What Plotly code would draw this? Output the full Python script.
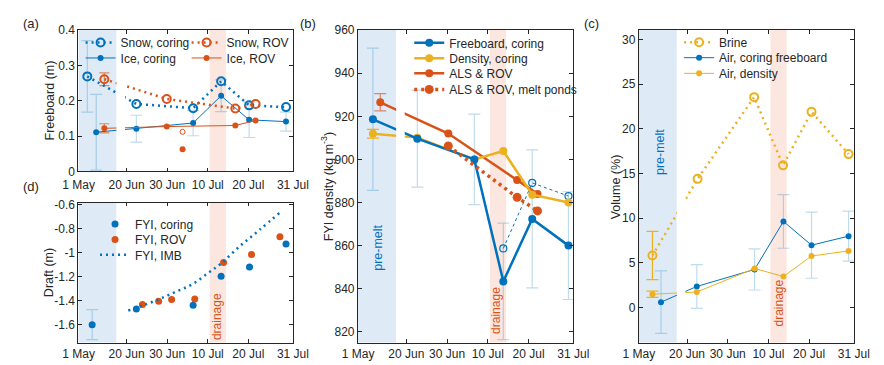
import plotly.graph_objects as go

W, H = 884, 365
FONT = "Liberation Sans, Arial, sans-serif"
TXT = "#262626"
BLUE = "#0072BD"
ORANGE = "#D95319"
YELLOW = "#EDB120"
EB_BLUE = "rgba(0,114,189,0.25)"
EB_ORANGE = "rgba(217,83,25,0.65)"
PRE_FILL = "rgb(222,235,247)"
DRN_FILL = "rgb(251,231,223)"
FS = 12

# x = days after 20 Jun on a broken time axis (pre-melt samples from early May sit left of the break)
TICK_X = [-11.85, 0, 10, 20, 30, 41]
TICK_TEXT = ["1 May", "20 Jun", "30 Jun", "10 Jul", "20 Jul", "31 Jul"]
X_RANGE = [-11.9, 41]
PREMELT = [-11.9, -2.5]
BREAK = [-2.5, -0.4]
DRAINAGE = [20.5, 24.5]

# ---------------- (a) freeboard ----------------
a_snow_cor_x = [-9.7, 2.4, 16.4, 23.3, 30.2, 39.3]
a_snow_cor_y = [0.269, 0.191, 0.179, 0.255, 0.187, 0.182]
a_snow_cor_err = [0.101, None, None, None, None, None]
a_ice_cor_x = [-7.5, 2.4, 16.4, 23.3, 30.2, 39.3]
a_ice_cor_y = [0.111, 0.121, 0.137, 0.214, 0.146, 0.141]
a_ice_cor_err = [0.107, 0.038, 0.036, 0.045, 0.05, 0.027]
a_snow_rov_x = [-5.5, 9.9, 26.8, 31.8]
a_snow_rov_y = [0.261, 0.205, 0.178, 0.191]
a_snow_rov_err = [0.018, None, None, None]
a_ice_rov_x = [-5.5, 9.9, 26.8, 31.8]
a_ice_rov_y = [0.122, 0.127, 0.130, 0.144]
a_ice_rov_err = [0.013, None, None, None]
a_pond_x = [13.8]
a_pond_snow_y = [0.112]
a_pond_ice_y = [0.063]

# ---------------- (b) FYI density ----------------
b_fb_x = [-8.2, 2.7, 16.7, 23.8, 30.9, 39.8]
b_fb_y = [918.6, 909.6, 900.0, 843.4, 872.4, 860.0]
b_fb_err = [33, 22.5, 21, 27, 32, 25]
b_fb_alt_x = [23.8, 30.9, 39.8]
b_fb_alt_y = [858.7, 889.1, 883.0]
b_den_x = [-8.2, 2.7, 16.7, 23.8, 30.9, 39.8]
b_den_y = [911.9, 910.1, 900.0, 903.9, 883.6, 880.0]
b_den_err = [2, None, None, None, None, None]
b_als_x = [-6.4, 10.3, 27.2, 32.2]
b_als_y = [926.5, 912.0, 890.4, 884.0]
b_als_err = [4, None, None, None]
b_pond_x = [10.3, 27.2, 32.2]
b_pond_y = [906.2, 882.4, 876.1]

# ---------------- (c) volume ----------------
c_brine_x = [-8.5, 2.6, 16.5, 23.6, 30.6, 39.7]
c_brine_y = [5.81, 14.39, 23.54, 15.9, 21.89, 17.16]
c_brine_err = [2.7, None, None, None, None, None]
c_airfb_x = [-6.4, 2.4, 16.6, 23.7, 30.6, 39.7]
c_airfb_y = [0.58, 2.34, 4.24, 9.62, 6.96, 7.97]
c_airfb_err = [3.5, 2.45, 2.3, 3.0, 3.7, 2.8]
c_airden_x = [-8.5, 2.4, 16.6, 23.7, 30.6, 39.7]
c_airden_y = [1.47, 1.72, 4.35, 3.45, 5.75, 6.32]
c_airden_err = [0.35, None, None, None, None, None]

# ---------------- (d) draft ----------------
d_cor_x = [-8.5, 2.4, 16.4, 23.3, 30.3, 39.3]
d_cor_y = [-1.60, -1.469, -1.439, -1.196, -1.118, -0.926]
d_cor_err = [0.125, None, None, None, None, None]
d_rov_x = [3.9, 7.9, 11.1, 16.8, 23.9, 30.8, 37.8]
d_rov_y = [-1.431, -1.404, -1.391, -1.386, -1.081, -1.014, -0.865]
d_imb_x = [0.4, 4.3, 8.3, 12.2, 16.2, 20.1, 23.3, 28.0, 32.8, 37.9]
d_imb_y = [-1.482, -1.436, -1.383, -1.324, -1.263, -1.169, -1.089, -0.942, -0.808, -0.661]

fig = go.Figure()
legend_layout = {}
legend_count = [0]


def new_legend(text_x, row_y):
    legend_count[0] += 1
    n = legend_count[0]
    name = "legend" if n == 1 else f"legend{n}"
    legend_layout[name] = dict(
        x=(text_x - 40) / W, y=1 - (row_y - 5) / H, xanchor="left", yanchor="middle",
        bgcolor="rgba(0,0,0,0)", borderwidth=0, itemclick=False, itemdoubleclick=False,
        font=dict(size=FS, color=TXT, family=FONT))
    return name


def err_trace(ax, xs, ys, errs, color, width):
    px = [x for x, e in zip(xs, errs) if e is not None]
    py = [y for y, e in zip(ys, errs) if e is not None]
    pe = [e for e in errs if e is not None]
    fig.add_trace(go.Scatter(x=px, y=py, mode="markers", xaxis=f"x{ax}", yaxis=f"y{ax}",
                             marker=dict(size=1, color="rgba(0,0,0,0)"), showlegend=False,
                             hoverinfo="skip", name="err",
                             error_y=dict(type="data", array=pe, color=color, thickness=1.2,
                                          width=width)))


def line_trace(ax, xs, ys, color, lw, dash, symbol, msize, mlw=0, name=None, legend=None):
    fig.add_trace(go.Scatter(
        x=xs, y=ys, mode="lines+markers" if lw > 0 else "markers",
        xaxis=f"x{ax}", yaxis=f"y{ax}", name=name or "series",
        line=dict(color=color, width=lw, dash=dash),
        marker=dict(symbol=symbol, size=msize, color=color, line=dict(color=color, width=mlw)),
        showlegend=name is not None, legend=legend))


# ---- (a) ----
err_trace(1, a_ice_cor_x, a_ice_cor_y, a_ice_cor_err, EB_BLUE, 6)
err_trace(1, a_snow_cor_x, a_snow_cor_y, a_snow_cor_err, EB_BLUE, 6)
err_trace(1, a_snow_rov_x, a_snow_rov_y, a_snow_rov_err, EB_ORANGE, 5)
err_trace(1, a_ice_rov_x, a_ice_rov_y, a_ice_rov_err, EB_ORANGE, 5)
line_trace(1, a_snow_cor_x, a_snow_cor_y, BLUE, 2.5, "2px,4px", "circle-open", 8, 2,
           "Snow, coring", new_legend(107, 42))
line_trace(1, a_ice_cor_x, a_ice_cor_y, BLUE, 1, "solid", "circle", 6, 0,
           "Ice, coring", new_legend(107, 58))
line_trace(1, a_snow_rov_x, a_snow_rov_y, ORANGE, 2.5, "2px,4px", "circle-open", 8, 2,
           "Snow, ROV", new_legend(217, 42))
line_trace(1, a_ice_rov_x, a_ice_rov_y, ORANGE, 1, "solid", "circle", 6, 0,
           "Ice, ROV", new_legend(217, 58))
line_trace(1, a_pond_x, a_pond_snow_y, ORANGE, 0, "solid", "circle-open", 5, 1)
line_trace(1, a_pond_x, a_pond_ice_y, ORANGE, 0, "solid", "circle", 6, 0)

# ---- (b) ----
err_trace(2, b_fb_x, b_fb_y, b_fb_err, EB_BLUE, 6)
err_trace(2, b_den_x, b_den_y, b_den_err, YELLOW, 6)
err_trace(2, b_als_x, b_als_y, b_als_err, EB_ORANGE, 6)
line_trace(2, b_fb_alt_x, b_fb_alt_y, BLUE, 1, "dot", "circle-open", 7, 1.2)
line_trace(2, b_als_x, b_als_y, ORANGE, 2.5, "solid", "circle", 8, 0,
           "ALS & ROV", new_legend(448, 74))
line_trace(2, b_den_x, b_den_y, YELLOW, 2.5, "solid", "circle", 8, 0,
           "Density, coring", new_legend(448, 58.3))
line_trace(2, b_fb_x, b_fb_y, BLUE, 2.5, "solid", "circle", 8, 0,
           "Freeboard, coring", new_legend(448, 42.3))
line_trace(2, b_pond_x, b_pond_y, ORANGE, 3.5, "3px,4px", "circle", 9, 0,
           "ALS & ROV, melt ponds", new_legend(448, 90.7))

# ---- (c) ----
err_trace(3, c_airfb_x, c_airfb_y, c_airfb_err, EB_BLUE, 6)
err_trace(3, c_brine_x, c_brine_y, c_brine_err, YELLOW, 6)
err_trace(3, c_airden_x, c_airden_y, c_airden_err, YELLOW, 6)
line_trace(3, c_brine_x, c_brine_y, YELLOW, 2.5, "2px,4px", "circle-open", 8, 2,
           "Brine", new_legend(728, 41.7))
line_trace(3, c_airfb_x, c_airfb_y, BLUE, 1, "solid", "circle", 6, 0,
           "Air, coring freeboard", new_legend(728, 57.7))
line_trace(3, c_airden_x, c_airden_y, YELLOW, 1, "solid", "circle", 6, 0,
           "Air, density", new_legend(728, 74))

# ---- (d) ----
err_trace(4, d_cor_x, d_cor_y, d_cor_err, EB_BLUE, 6)
line_trace(4, d_cor_x, d_cor_y, BLUE, 0, "solid", "circle", 7, 0,
           "FYI, coring", new_legend(122, 230.7))
line_trace(4, d_rov_x, d_rov_y, ORANGE, 0, "solid", "circle", 7, 0,
           "FYI, ROV", new_legend(122, 246.7))
fig.add_trace(go.Scatter(x=d_imb_x, y=d_imb_y, mode="lines", xaxis="x4", yaxis="y4",
                         line=dict(color=BLUE, width=2.5, dash="2px,4px", shape="spline"),
                         name="FYI, IMB", legend=new_legend(122, 262.7)))

# ---------------- axes ----------------
px_dom = {
    1: ([64.7, 287.3], [24, 171]),
    2: ([354.7, 578.3], [24, 349]),
    3: ([646, 869.3], [24, 349]),
    4: ([64.7, 287.3], [203.3, 349]),
}
y_ranges = {1: [0, 0.4], 2: [815, 960], 3: [-3.95, 31.05], 4: [-1.75, -0.58]}
y_ticks = {
    1: ([0, 0.1, 0.2, 0.3, 0.4], ["0", "0.1", "0.2", "0.3", "0.4"]),
    2: ([820, 840, 860, 880, 900, 920, 940, 960], ["820", "840", "860", "880", "900", "920", "940", "960"]),
    3: ([0, 5, 10, 15, 20, 25, 30], ["0", "5", "10", "15", "20", "25", "30"]),
    4: ([-1.6, -1.4, -1.2, -1, -0.8, -0.6], ["-1.6", "-1.4", "-1.2", "-1", "-0.8", "-0.6"]),
}
common = dict(showline=True, linecolor=TXT, linewidth=0.8, mirror="allticks", ticks="inside",
              ticklen=4, tickcolor=TXT, tickwidth=0.8, showgrid=False, zeroline=False,
              tickfont=dict(size=FS, color=TXT, family=FONT))
layout_axes = {}
shapes = []
for k, (xd, yd) in px_dom.items():
    sx = "" if k == 1 else str(k)
    layout_axes[f"xaxis{sx}"] = dict(domain=[xd[0] / W, xd[1] / W], range=X_RANGE, anchor=f"y{sx}",
                                     tickmode="array", tickvals=TICK_X, ticktext=TICK_TEXT,
                                     ticklabelstandoff=2 if k == 1 else 0, **common)
    layout_axes[f"yaxis{sx}"] = dict(domain=[1 - yd[1] / H, 1 - yd[0] / H], range=y_ranges[k],
                                     anchor=f"x{sx}", tickmode="array", tickvals=y_ticks[k][0],
                                     ticktext=y_ticks[k][1], **common)
    xr = f"x{sx}"
    ydr = f"y{sx} domain"
    inset = 1.2 / (yd[1] - yd[0])
    shapes.append(dict(type="rect", xref=xr, yref=ydr, x0=PREMELT[0], x1=PREMELT[1], y0=0, y1=1,
                       fillcolor=PRE_FILL, line=dict(width=0), layer="below"))
    shapes.append(dict(type="rect", xref=xr, yref=ydr, x0=DRAINAGE[0], x1=DRAINAGE[1], y0=0, y1=1,
                       fillcolor=DRN_FILL, line=dict(width=0), layer="below"))
    shapes.append(dict(type="rect", xref=xr, yref=ydr, x0=BREAK[0], x1=BREAK[1], y0=inset, y1=1 - inset,
                       fillcolor="white", line=dict(width=0), layer="above"))


def ann(text, x, y, size=FS, color=TXT, angle=0):
    return dict(text=text, x=x / W, y=1 - y / H, xref="paper", yref="paper", showarrow=False,
                textangle=angle, font=dict(size=size, color=color, family=FONT),
                xanchor="center", yanchor="middle")


annotations = [
    ann("(a)", 16, 17, 13), ann("(b)", 303, 17, 13), ann("(c)", 597, 17, 13), ann("(d)", 16, 187, 13),
    ann("Freeboard (m)", 35, 97.5, 12.5, angle=-90),
    ann("Draft (m)", 35, 276, 12.5, angle=-90),
    ann("FYI density (kg m<sup>-3</sup>)", 323, 187, 12.5, angle=-90),
    ann("Volume (%)", 622, 187, 12.5, angle=-90),
    ann("pre-melt", 376, 250, 12.5, BLUE, -90),
    ann("pre-melt", 668, 151, 12.5, BLUE, -90),
    ann("drainage", 498, 315, 12, ORANGE, -90),
    ann("drainage", 792, 308, 12, ORANGE, -90),
    ann("drainage", 208, 322, 12, ORANGE, -90),
]

fig.update_layout(width=W, height=H, margin=dict(l=0, r=0, t=0, b=0),
                  paper_bgcolor="white", plot_bgcolor="white",
                  font=dict(family=FONT, size=FS, color=TXT),
                  shapes=shapes, annotations=annotations, **layout_axes, **legend_layout)

fig.write_html("out.html", config={"displayModeBar": False},
               post_script="document.body.style.margin='0';document.body.style.overflow='hidden';")
